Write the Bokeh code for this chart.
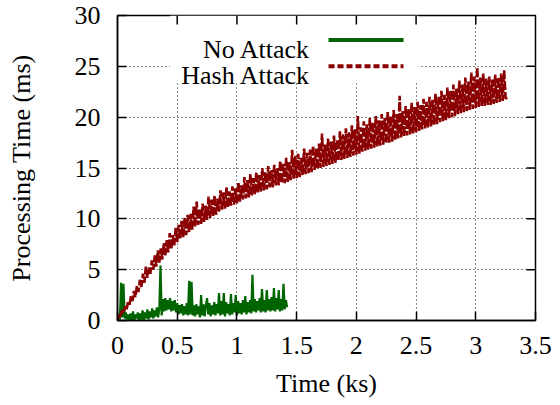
import math
from bokeh.plotting import figure
from bokeh.models import Range1d, FixedTicker, Label, Arrow, BoxAnnotation
from bokeh.embed import file_html
from bokeh.resources import INLINE

# ---------------- data ----------------
x_ticks = [0, 0.5, 1, 1.5, 2, 2.5, 3, 3.5]
x_tick_labels = ["0", "0.5", "1", "1.5", "2", "2.5", "3", "3.5"]
y_ticks = [0, 5, 10, 15, 20, 25, 30]
y_tick_labels = ["0", "5", "10", "15", "20", "25", "30"]

series_names = ["No Attack", "Hash Attack"]
series_colors = ["#006400", "#8b0000"]

no_attack_t = [
    0.00, 0.01, 0.02, 0.03, 0.04, 0.05, 0.06, 0.07, 0.08, 0.09,
    0.10, 0.11, 0.12, 0.13, 0.14, 0.15, 0.16, 0.17, 0.18, 0.19,
    0.20, 0.21, 0.22, 0.23, 0.24, 0.25, 0.26, 0.27, 0.28, 0.29,
    0.30, 0.31, 0.32, 0.33, 0.34, 0.35, 0.36, 0.37, 0.38, 0.39,
    0.40, 0.41, 0.42, 0.43, 0.44, 0.45, 0.46, 0.47, 0.48, 0.49,
    0.50, 0.51, 0.52, 0.53, 0.54, 0.55, 0.56, 0.57, 0.58, 0.59,
    0.60, 0.61, 0.62, 0.63, 0.64, 0.65, 0.66, 0.67, 0.68, 0.69,
    0.70, 0.71, 0.72, 0.73, 0.74, 0.75, 0.76, 0.77, 0.78, 0.79,
    0.80, 0.81, 0.82, 0.83, 0.84, 0.85, 0.86, 0.87, 0.88, 0.89,
    0.90, 0.91, 0.92, 0.93, 0.94, 0.95, 0.96, 0.97, 0.98, 0.99,
    1.00, 1.01, 1.02, 1.03, 1.04, 1.05, 1.06, 1.07, 1.08, 1.09,
    1.10, 1.11, 1.12, 1.13, 1.14, 1.15, 1.16, 1.17, 1.18, 1.19,
    1.20, 1.21, 1.22, 1.23, 1.24, 1.25, 1.26, 1.27, 1.28, 1.29,
    1.30, 1.31, 1.32, 1.33, 1.34, 1.35, 1.36, 1.37, 1.38, 1.39,
    1.40, 1.41, 1.42]
no_attack_ms = [
    0.0, 0.4, 0.1, 3.7, 0.3, 3.6, 0.2, 0.8, 0.1, 0.6,
    -0.2, 0.7, 0.0, 0.9, -0.1, 0.6, 0.2, 0.8, -0.2, 0.7,
    0.1, 1.0, 0.0, 0.8, 0.2, 1.1, 0.1, 0.9, 0.3, 1.2,
    0.2, 1.0, 0.4, 1.3, 0.3, 1.1, 5.4, 0.5, 2.1, 0.9,
    2.2, 1.0, 2.0, 1.1, 2.2, 0.9, 1.9, 1.0, 2.0, 0.8,
    1.7, 0.6, 1.5, 0.7, 1.6, 0.5, 1.4, 0.6, 1.7, 0.5,
    3.9, 0.6, 3.8, 0.5, 1.5, 0.4, 1.6, 0.6, 1.4, 0.3,
    2.5, 0.5, 1.6, 0.4, 1.5, 2.2, 0.6, 1.7, 0.4, 1.5,
    0.6, 1.8, 0.5, 1.6, 0.7, 2.7, 0.5, 1.9, 0.6, 2.7,
    0.4, 1.8, 0.7, 1.6, 0.5, 2.6, 0.6, 1.7, 0.8, 2.5,
    0.5, 1.9, 0.7, 1.7, 0.6, 2.0, 0.8, 2.4, 0.6, 1.8,
    0.8, 2.0, 0.7, 4.5, 0.9, 2.1, 0.8, 1.9, 1.0, 2.2,
    0.8, 3.1, 0.9, 2.0, 0.8, 3.0, 1.0, 2.1, 0.9, 2.3,
    1.0, 3.2, 0.9, 2.2, 1.1, 3.0, 0.9, 2.1, 1.0, 3.6,
    1.1, 2.0, 1.3]

hash_attack_t = [
    0.0, 0.0125, 0.025, 0.0375, 0.05, 0.0625, 0.075, 0.0875,
    0.1, 0.1125, 0.125, 0.1375, 0.15, 0.1625, 0.175, 0.1875,
    0.2, 0.2125, 0.225, 0.2375, 0.25, 0.2625, 0.275, 0.2875,
    0.3, 0.3125, 0.325, 0.3375, 0.35, 0.3625, 0.375, 0.3875,
    0.4, 0.4125, 0.425, 0.4375, 0.45, 0.4625, 0.475, 0.4875,
    0.5, 0.5125, 0.525, 0.5375, 0.55, 0.5625, 0.575, 0.5875,
    0.6, 0.6125, 0.625, 0.6375, 0.65, 0.6625, 0.675, 0.6875,
    0.7, 0.7125, 0.725, 0.7375, 0.75, 0.7625, 0.775, 0.7875,
    0.8, 0.8125, 0.825, 0.8375, 0.85, 0.8625, 0.875, 0.8875,
    0.9, 0.9125, 0.925, 0.9375, 0.95, 0.9625, 0.975, 0.9875,
    1.0, 1.0125, 1.025, 1.0375, 1.05, 1.0625, 1.075, 1.0875,
    1.1, 1.1125, 1.125, 1.1375, 1.15, 1.1625, 1.175, 1.1875,
    1.2, 1.2125, 1.225, 1.2375, 1.25, 1.2625, 1.275, 1.2875,
    1.3, 1.3125, 1.325, 1.3375, 1.35, 1.3625, 1.375, 1.3875,
    1.4, 1.4125, 1.425, 1.4375, 1.45, 1.4625, 1.475, 1.4875,
    1.5, 1.5125, 1.525, 1.5375, 1.55, 1.5625, 1.575, 1.5875,
    1.6, 1.6125, 1.625, 1.6375, 1.65, 1.6625, 1.675, 1.6875,
    1.7, 1.7125, 1.725, 1.7375, 1.75, 1.7625, 1.775, 1.7875,
    1.8, 1.8125, 1.825, 1.8375, 1.85, 1.8625, 1.875, 1.8875,
    1.9, 1.9125, 1.925, 1.9375, 1.95, 1.9625, 1.975, 1.9875,
    2.0, 2.0125, 2.025, 2.0375, 2.05, 2.0625, 2.075, 2.0875,
    2.1, 2.1125, 2.125, 2.1375, 2.15, 2.1625, 2.175, 2.1875,
    2.2, 2.2125, 2.225, 2.2375, 2.25, 2.2625, 2.275, 2.2875,
    2.3, 2.3125, 2.325, 2.3375, 2.35, 2.3625, 2.375, 2.3875,
    2.4, 2.4125, 2.425, 2.4375, 2.45, 2.4625, 2.475, 2.4875,
    2.5, 2.5125, 2.525, 2.5375, 2.55, 2.5625, 2.575, 2.5875,
    2.6, 2.6125, 2.625, 2.6375, 2.65, 2.6625, 2.675, 2.6875,
    2.7, 2.7125, 2.725, 2.7375, 2.75, 2.7625, 2.775, 2.7875,
    2.8, 2.8125, 2.825, 2.8375, 2.85, 2.8625, 2.875, 2.8875,
    2.9, 2.9125, 2.925, 2.9375, 2.95, 2.9625, 2.975, 2.9875,
    3.0, 3.0125, 3.025, 3.0375, 3.05, 3.0625, 3.075, 3.0875,
    3.1, 3.1125, 3.125, 3.1375, 3.15, 3.1625, 3.175, 3.1875,
    3.2, 3.2125, 3.225, 3.2375, 3.25, 3.2625]
hash_attack_ms = [
    0.0, 0.6, 0.3, 1.0, 0.7, 1.4, 1.0, 1.8,
    1.5, 2.4, 1.9, 2.9, 2.3, 3.4, 2.8, 4.0,
    3.3, 4.6, 3.7, 5.3, 4.2, 5.2, 4.6, 5.9,
    5.0, 6.4, 5.3, 6.9, 5.7, 7.1, 6.0, 7.6,
    6.4, 7.9, 6.7, 8.6, 7.0, 8.4, 7.4, 9.1,
    7.7, 9.4, 8.0, 9.8, 8.2, 10.1, 8.4, 10.4,
    8.7, 10.5, 8.9, 11.2, 9.2, 11.7, 9.4, 11.0,
    9.5, 11.5, 9.7, 11.3, 9.9, 12.2, 10.1, 11.9,
    10.2, 12.3, 10.4, 12.0, 10.7, 12.8, 10.9, 12.6,
    11.0, 13.1, 11.1, 12.7, 11.3, 13.2, 11.4, 13.0,
    11.5, 13.6, 11.7, 13.3, 11.9, 14.1, 12.0, 13.8,
    12.1, 14.4, 12.3, 14.0, 12.4, 14.6, 12.6, 14.3,
    12.6, 15.0, 12.8, 14.6, 12.9, 15.2, 13.1, 14.8,
    13.1, 15.3, 13.3, 15.0, 13.3, 15.7, 13.5, 15.4,
    13.5, 16.0, 13.6, 15.6, 13.8, 16.8, 13.9, 16.2,
    14.0, 16.4, 14.1, 16.0, 14.3, 16.9, 14.4, 16.5,
    14.5, 16.8, 14.6, 17.2, 14.8, 16.9, 14.9, 17.4,
    15.0, 18.4, 15.1, 17.3, 15.2, 17.9, 15.3, 17.6,
    15.4, 18.2, 15.5, 17.8, 15.7, 18.6, 15.8, 18.3,
    15.9, 18.9, 16.0, 18.5, 16.1, 19.2, 16.2, 18.8,
    16.3, 20.1, 16.4, 19.0, 16.6, 19.6, 16.7, 19.3,
    16.8, 19.9, 16.9, 19.5, 17.0, 20.1, 17.1, 19.7,
    17.2, 20.3, 17.3, 19.9, 17.4, 20.5, 17.5, 20.1,
    17.6, 20.7, 17.7, 20.3, 17.9, 22.1, 18.0, 20.6,
    18.1, 21.1, 18.2, 20.8, 18.3, 21.4, 18.4, 21.0,
    18.5, 21.5, 18.6, 21.2, 18.8, 21.8, 18.9, 21.5,
    19.0, 22.0, 19.1, 21.7, 19.2, 22.3, 19.3, 22.0,
    19.5, 22.6, 19.6, 22.2, 19.7, 22.9, 19.9, 22.6,
    20.0, 23.2, 20.1, 22.8, 20.3, 23.6, 20.4, 23.2,
    20.5, 23.9, 20.6, 23.5, 20.7, 24.4, 20.8, 24.0,
    20.9, 24.9, 21.0, 23.9, 21.1, 24.3, 21.1, 23.8,
    21.2, 24.0, 21.2, 23.7, 21.3, 24.2, 21.4, 23.9,
    21.5, 24.3, 21.6, 24.6, 21.8, 22.0]

# ---------------- style ----------------
FONT = "Liberation Serif"
FS = "26px"
TICK_LEN = 9

p = figure(frame_width=418, frame_height=305,
           x_range=Range1d(0, 3.5), y_range=Range1d(0, 30),
           output_backend="svg", toolbar_location=None,
           min_border_left=117, min_border_right=20,
           min_border_top=15, min_border_bottom=84,
           background_fill_color="white", border_fill_color="white")

p.outline_line_color = "black"
p.outline_line_width = 1.5

for ax, ticks, labels in ((p.xaxis[0], x_ticks, x_tick_labels),
                          (p.yaxis[0], y_ticks, y_tick_labels)):
    ax.ticker = FixedTicker(ticks=ticks)
    ax.major_label_overrides = dict(zip(ticks, labels))
    ax.major_label_text_font = FONT
    ax.major_label_text_font_size = FS
    ax.major_label_text_color = "black"
    ax.axis_label_text_font = FONT
    ax.axis_label_text_font_size = FS
    ax.axis_label_text_font_style = "normal"
    ax.axis_label_text_color = "black"
    ax.major_tick_in = TICK_LEN
    ax.major_tick_out = 0
    ax.minor_tick_line_color = None
    ax.major_tick_line_color = "black"
    ax.major_tick_line_width = 1.5
    ax.axis_line_color = "black"
    ax.axis_line_width = 1.5

p.xaxis[0].axis_label = "Time (ks)"
p.xaxis[0].major_label_standoff = 16
p.xaxis[0].axis_label_standoff = 12
p.yaxis[0].axis_label = "Processing Time (ms)"
p.yaxis[0].major_label_standoff = 17
p.yaxis[0].axis_label_standoff = 36

p.xgrid.ticker = FixedTicker(ticks=x_ticks)
p.ygrid.ticker = FixedTicker(ticks=y_ticks)
for g in (p.xgrid, p.ygrid):
    g.grid_line_color = "black"
    g.grid_line_dash = "1 3"
    g.grid_line_width = 1
    g.grid_line_alpha = 0.9

# key background (covers grid like gnuplot key)
key_box = BoxAnnotation(left=0.44, right=2.52, bottom=23.35, top=30,
                        fill_color="white", fill_alpha=1.0, line_alpha=0,
                        level="underlay")
p.add_layout(key_box)

# mirrored ticks on top and right edges
p.ray(x=x_ticks[1:-1], y=[y_ticks[-1]] * (len(x_ticks) - 2), length=TICK_LEN,
      length_units="screen", angle=-math.pi / 2, line_color="black", line_width=1.5)
p.ray(x=[x_ticks[-1]] * (len(y_ticks) - 2), y=y_ticks[1:-1], length=TICK_LEN,
      length_units="screen", angle=math.pi, line_color="black", line_width=1.5)

# data
p.line(no_attack_t, no_attack_ms, line_color=series_colors[0], line_width=2.2)
p.line(hash_attack_t, hash_attack_ms, line_color=series_colors[1], line_width=2.6,
       line_dash="9 2")

# key (gnuplot style: text, then sample)
key_text_x = 1.616
key_text_y = [26.66, 24.1]
key_line_y = [27.6, 25.0]
key_line_x0, key_line_x1 = 1.767, 2.395
key_dash = ["solid", "6 3"]
for i in range(2):
    p.add_layout(Label(x=key_text_x, y=key_text_y[i], text=series_names[i],
                       text_align="right", text_baseline="alphabetic",
                       text_font=FONT, text_font_size=FS, text_color="black"))
    p.add_layout(Arrow(end=None, x_start=key_line_x0, y_start=key_line_y[i],
                       x_end=key_line_x1, y_end=key_line_y[i],
                       line_color=series_colors[i], line_width=4,
                       line_dash=key_dash[i]))

open("out.html", "w").write(file_html(p, INLINE))
